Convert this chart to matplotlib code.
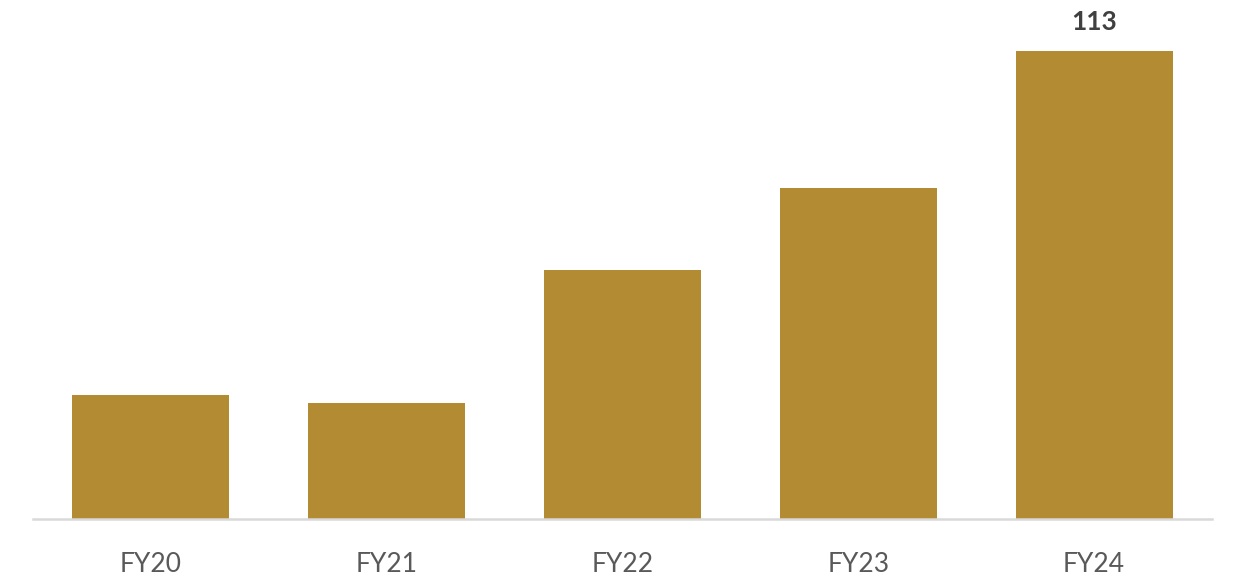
import matplotlib
matplotlib.use("Agg")
import matplotlib.pyplot as plt

# data
years = ["FY20", "FY21", "FY22", "FY23", "FY24"]
values = [30, 28, 60, 80, 113]
label_idx = 4  # only the last bar is labelled

bar_color = "#B38B33"

fig = plt.figure(figsize=(12.44, 5.77), dpi=100)
ax = fig.add_axes([33 / 1244, 1 - 519 / 577, (1212 - 33) / 1244, 519 / 577])

ax.bar(range(len(years)), values, width=0.665, color=bar_color, zorder=2)
ax.set_xlim(-0.5, len(years) - 0.5)
ax.set_ylim(0, 125.3)

ax.text(label_idx, values[label_idx] + 4, str(values[label_idx]),
        ha="center", va="bottom", fontsize=19, fontweight="bold",
        color="#404040", family="Lato")

ax.set_xticks(range(len(years)))
ax.set_xticklabels(years, fontsize=19, color="#595959", family="Lato",
                   fontweight="normal")
ax.tick_params(axis="x", length=0, pad=24)
ax.set_yticks([])

for s in ["top", "right", "left"]:
    ax.spines[s].set_visible(False)
ax.spines["bottom"].set_color("#D9D9D9")
ax.spines["bottom"].set_linewidth(1.8)

fig.savefig("out.png", dpi=100)
